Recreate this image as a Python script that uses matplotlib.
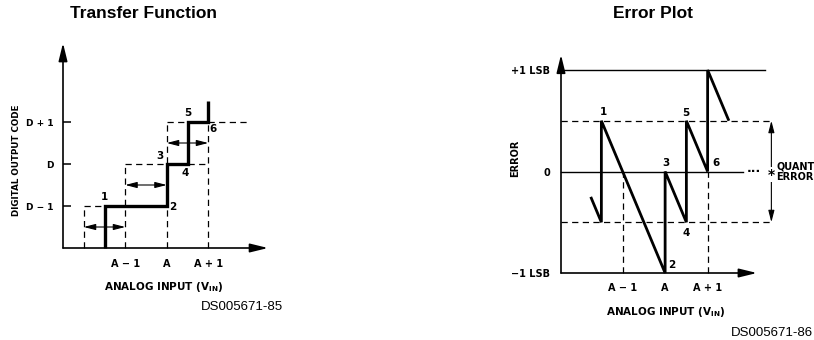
import matplotlib
matplotlib.use("Agg")
import matplotlib.pyplot as plt
from matplotlib import font_manager

# pick a condensed bold face for the small labels if there is one
names = {f.name for f in font_manager.fontManager.ttflist}
if "Liberation Sans Narrow" in names:
    COND, CS = "Liberation Sans Narrow", 8.5
else:
    COND, CS = "DejaVu Sans", 7
plt.rcParams["mathtext.fontset"] = "custom"
plt.rcParams["mathtext.rm"] = COND + ":bold"

# ---- transfer function data (x in steps, A-1 = 1; y in codes, D-1 = 1)
x_ticks = [1, 2, 3]
x_labels = ["A \u2212 1", "A", "A + 1"]
code_ticks = [1, 2, 3]
code_labels = ["D \u2212 1", "D", "D + 1"]
stair_x = [0.5, 0.5, 2.0, 2.0, 2.5, 2.5, 3.0, 3.0]
stair_y = [0.0, 1.0, 1.0, 2.0, 2.0, 3.0, 3.0, 3.5]
# ideal code edges (dashed)
ideal_vx = [0, 1, 2, 3]
ideal_vtop = [1, 2, 3, 3]
ideal_h = [(1, 0, 0.5), (2, 1, 2), (2, 2.5, 3), (3, 2, 2.5), (3, 3, 4)]  # (y, x0, x1)
width_arrows = [(0, 1, 0.5), (1, 2, 1.5), (2, 3, 2.5)]  # (x0, x1, y)
stair_pts = ["1", "2", "3", "4", "5", "6"]
stair_lx = [0.5, 2.15, 1.84, 2.44, 2.51, 3.11]
stair_ly = [1.21, 0.98, 2.19, 1.79, 3.21, 2.83]

# ---- error plot data (error in LSB)
err_ticks = [1, 0, -1]
err_labels = ["+1 LSB", "0", "\u22121 LSB"]
err_x = [0.25, 0.5, 0.5, 2.0, 2.0, 2.5, 2.5, 3.0, 3.0, 3.5]
err_y = [-0.25, -0.5, 0.5, -1.0, 0.0, -0.5, 0.5, 0.0, 1.0, 0.5]
err_pts = ["1", "2", "3", "4", "5", "6"]
err_lx = [0.54, 2.16, 2.02, 2.49, 2.49, 3.2]
err_ly = [0.59, -0.92, 0.08, -0.61, 0.58, 0.08]

fig = plt.figure(figsize=(8.14, 3.40), dpi=100)
W, H = 814.0, 340.0

dash = dict(color="black", lw=0.9, ls=(0, (5, 3.5)), clip_on=False)
axarrow = dict(arrowstyle="-|>,head_length=0.9,head_width=0.22", color="black",
               lw=1.2, mutation_scale=12, shrinkA=0, shrinkB=0)
small2 = dict(arrowstyle="<|-|>,head_length=0.7,head_width=0.18", color="black",
              lw=0.8, mutation_scale=10, shrinkA=0, shrinkB=0)

# ================= Transfer Function =================
ax1 = fig.add_axes([63 / W, 92 / H, 207.5 / W, 210 / H])
ax1.set_xlim(-0.5, 4.5)
ax1.set_ylim(0, 5)
for s in ax1.spines.values():
    s.set_visible(False)

ax1.annotate("", xy=(-0.5, 4.88), xytext=(-0.5, 0), arrowprops=axarrow, annotation_clip=False)
ax1.annotate("", xy=(4.44, 0), xytext=(-0.5, 0), arrowprops=axarrow, annotation_clip=False)

for vx, top in zip(ideal_vx, ideal_vtop):
    ax1.plot([vx, vx], [0, top], **dash)
for hy, x0, x1 in ideal_h:
    ax1.plot([x0, x1], [hy, hy], **dash)
for x0, x1, y in width_arrows:
    ax1.annotate("", xy=(x0, y), xytext=(x1, y), arrowprops=small2)

ax1.plot(stair_x, stair_y, color="black", lw=2.4, solid_joinstyle="miter",
         solid_capstyle="butt", clip_on=False)
for t, x, y in zip(stair_pts, stair_lx, stair_ly):
    ax1.text(x, y, t, ha="center", va="center", fontsize=CS + 0.5, family=COND, fontweight="bold")

ax1.set_xticks(x_ticks)
ax1.set_xticklabels(x_labels, family=COND, fontweight="bold", fontsize=CS)
ax1.set_yticks(code_ticks)
ax1.set_yticklabels(code_labels, family=COND, fontweight="bold", fontsize=CS - 0.5)
ax1.tick_params(axis="x", length=0, pad=8)
ax1.tick_params(axis="y", direction="in", length=6, width=1.1, pad=7)

fig.text(143 / W, 1 - 14 / H, "Transfer Function", ha="center", va="center",
         fontsize=12.5, fontweight="bold", family="Liberation Sans")
fig.text(17 / W, 1 - 160 / H, "DIGITAL OUTPUT CODE", rotation=90, ha="center", va="center",
         fontsize=CS - 0.7, family=COND, fontweight="bold")
fig.text(164 / W, 1 - 287 / H, r"ANALOG INPUT (V$_{\mathrm{IN}}$)", ha="center", va="center",
         fontsize=CS + 0.5, family=COND, fontweight="bold")
fig.text(283 / W, 1 - 307 / H, "DS005671-85", ha="right", va="center",
         fontsize=9.5, family="Liberation Sans")

# ================= Error Plot =================
ax2 = fig.add_axes([561 / W, 67 / H, 212.5 / W, 233.45 / H])
ax2.set_xlim(-0.45, 4.55)
ax2.set_ylim(-1, 1.3)
for s in ax2.spines.values():
    s.set_visible(False)

ax2.annotate("", xy=(-0.45, 1.15), xytext=(-0.45, -1), arrowprops=axarrow, annotation_clip=False)
ax2.annotate("", xy=(4.16, -1), xytext=(-0.45, -1), arrowprops=axarrow, annotation_clip=False)

ax2.plot([-0.45, 4.35], [1, 1], color="black", lw=1.0, clip_on=False)
ax2.plot([-0.45, 3.83], [0, 0], color="black", lw=1.0, clip_on=False)
ax2.plot([-0.45, 4.52], [0.5, 0.5], **dash)
ax2.plot([-0.45, 4.52], [-0.5, -0.5], **dash)
for vx in [1, 3]:
    ax2.plot([vx, vx], [-1, 0], **dash)

ax2.plot(err_x, err_y, color="black", lw=2.0, solid_joinstyle="miter",
         solid_capstyle="butt", clip_on=False)
for t, x, y in zip(err_pts, err_lx, err_ly):
    ax2.text(x, y, t, ha="center", va="center", fontsize=CS + 0.5, family=COND, fontweight="bold")

ax2.annotate("", xy=(4.5, 0.5), xytext=(4.5, -0.5), arrowprops=small2, annotation_clip=False)
ax2.text(4.09, 0.0, "\u00b7\u00b7\u00b7", ha="center", va="center", fontsize=9, fontweight="bold")
ax2.text(4.5, -0.03, "*", ha="center", va="center", fontsize=10, fontweight="bold",
         bbox=dict(facecolor="white", edgecolor="none", pad=0.3))
ax2.text(4.62, 0.0, "QUANTIZATION\nERROR", ha="left", va="center", fontsize=CS,
         family=COND, fontweight="bold", linespacing=1.05, clip_on=False)

ax2.set_xticks(x_ticks)
ax2.set_xticklabels(x_labels, family=COND, fontweight="bold", fontsize=CS)
ax2.set_yticks(err_ticks)
ax2.set_yticklabels(err_labels, family=COND, fontweight="bold", fontsize=CS)
ax2.tick_params(axis="x", length=0, pad=7)
ax2.tick_params(axis="y", length=0, pad=8)

fig.text(653 / W, 1 - 14 / H, "Error Plot", ha="center", va="center",
         fontsize=12.5, fontweight="bold", family="Liberation Sans")
fig.text(515 / W, 1 - 158 / H, "ERROR", rotation=90, ha="center", va="center",
         fontsize=CS, family=COND, fontweight="bold")
fig.text(666 / W, 1 - 312 / H, r"ANALOG INPUT (V$_{\mathrm{IN}}$)", ha="center", va="center",
         fontsize=CS + 0.5, family=COND, fontweight="bold")
fig.text(813 / W, 1 - 333 / H, "DS005671-86", ha="right", va="center",
         fontsize=9.5, family="Liberation Sans")

fig.savefig("out.png", dpi=100)
